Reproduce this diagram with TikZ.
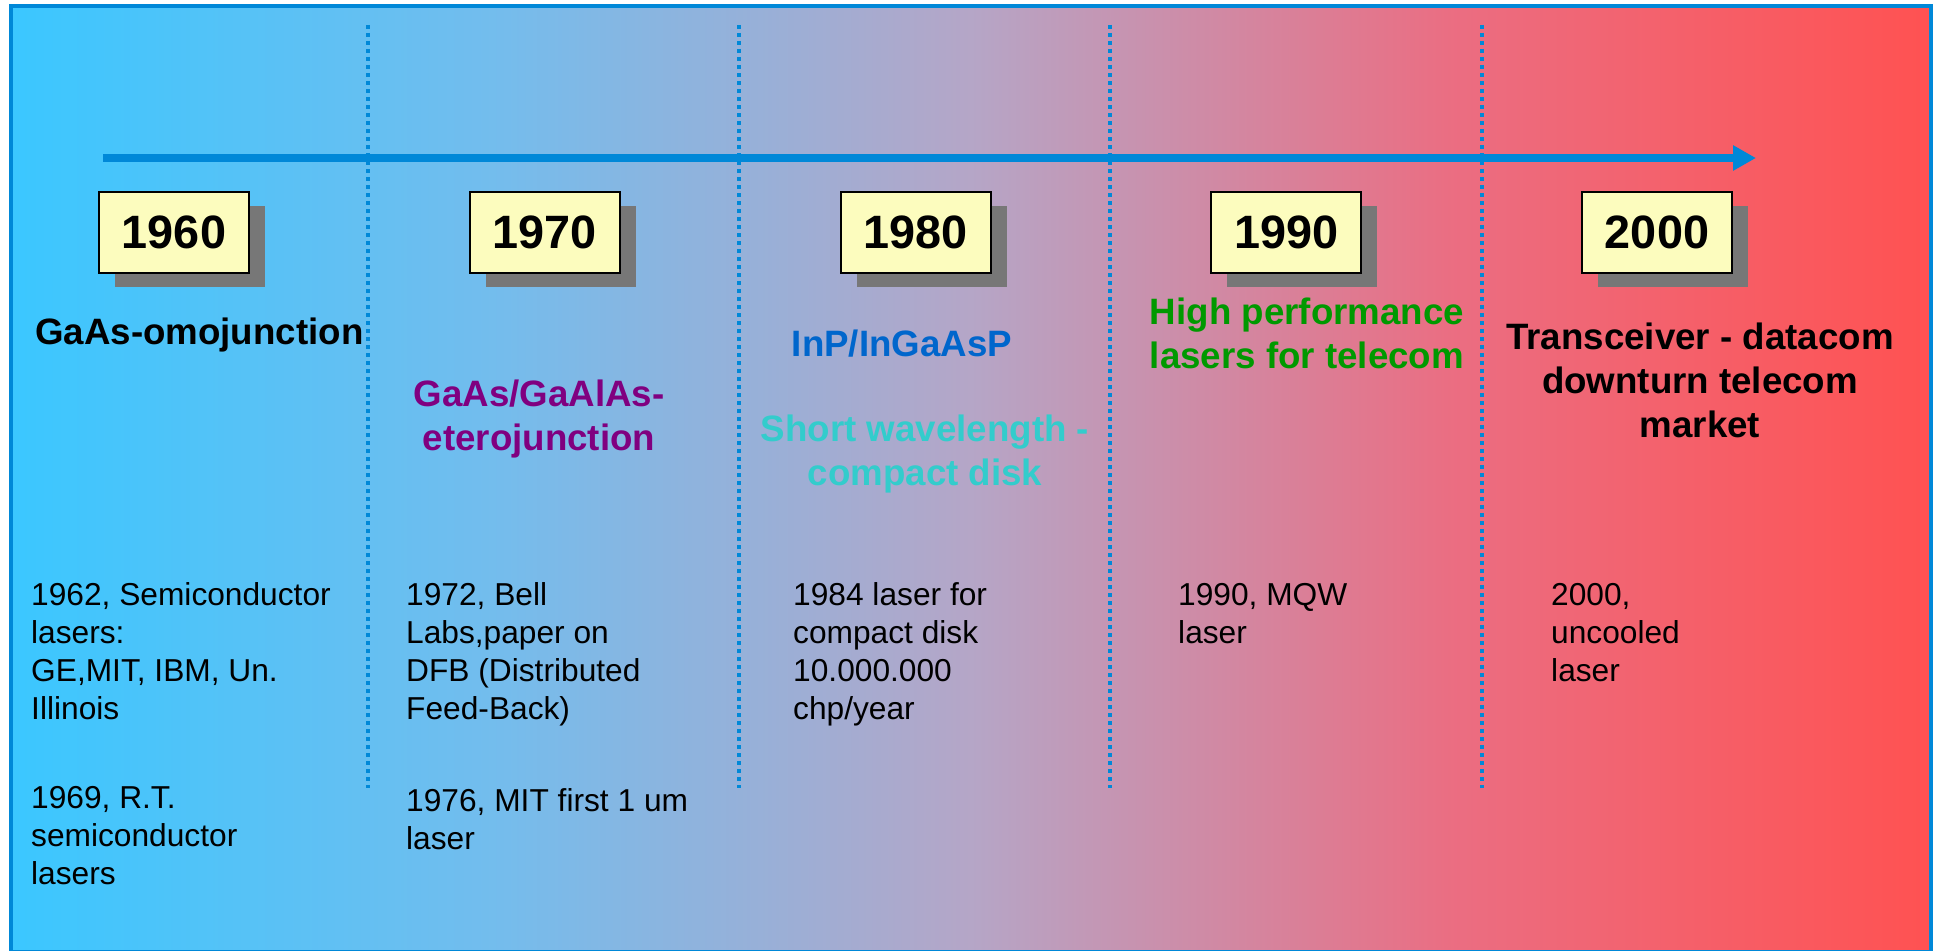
\documentclass[tikz,border=0pt]{standalone}
\usepackage{fontspec}
\setmainfont{Liberation Sans}
\usetikzlibrary{arrows.meta,shadows}
\definecolor{lineblue}{RGB}{0,136,216}
\definecolor{boxyellow}{RGB}{252,252,190}
\definecolor{shadowgray}{RGB}{119,119,119}
\definecolor{heterocol}{RGB}{128,0,128}
\definecolor{inpcol}{RGB}{0,102,204}
\definecolor{cdcol}{RGB}{51,204,204}
\definecolor{telecomcol}{RGB}{0,153,0}
\pgfdeclarehorizontalshading{timeramp}{100bp}{rgb(0bp)=(0.23,0.78,1);
  rgb(25bp)=(0.23,0.78,1); rgb(37.5bp)=(0.45,0.74,0.93); rgb(50bp)=(0.71,0.65,0.78);
  rgb(62.5bp)=(0.92,0.43,0.51); rgb(75bp)=(1,0.32,0.32); rgb(100bp)=(1,0.32,0.32)}
\tikzset{
  yearbox/.style={draw=black,line width=2pt,fill=boxyellow,minimum width=150,
    minimum height=81,inner sep=0,font=\fontsize{46.8}{56}\selectfont\bfseries,
    drop shadow={shadow xshift=16pt,shadow yshift=-14pt,fill=shadowgray,opacity=1}},
  head/.style={align=center,inner sep=0,anchor=base,
    font=\fontsize{36.7}{44}\selectfont\bfseries},
  body/.style={align=left,inner sep=0,anchor=base west,
    font=\fontsize{31.7}{38}\selectfont},
}
\begin{document}
\begin{tikzpicture}[x=1pt,y=-1pt]
  \pgfmathsetmacro\colw{370.75}
  \useasboundingbox (0,0) rectangle (1934,950);
  \clip (0,0) rectangle (1934,950);
  % background ramp and frame:
  \shade[shading=timeramp] (11,6) rectangle (1931,952);
  \draw[lineblue,line width=3.5pt] (11,6) rectangle (1931,952);
  % column separators:
  \foreach \x in {368,739,1110,1482}
    \draw[lineblue,line width=4pt,dash pattern=on 4pt off 4pt] (\x,25) -- (\x,788);
  % time axis:
  \coordinate (tstart) at (103,158);
  \coordinate (tend) at (1756,158);
  \draw[lineblue,line width=8pt,-{Triangle[length=23pt,width=24pt]}] (tstart) -- (tend);
  % year boxes:
  \foreach \i/\yr in {0/1960,1/1970,2/1980,3/1990,4/2000}
    \node[yearbox] (y\yr) at (174+\colw*\i,232.5) {\yr};
  % headings (placed at the baseline of their last line):
  \node[head,anchor=base west] (homo) at (35,344) {GaAs-omojunction};
  \node[head,text=heterocol] (hetero) at (539,450) {GaAs/GaAlAs-\\eterojunction};
  \node[head,text=inpcol] (inp) at (902,356) {InP/InGaAsP};
  \node[head,text=cdcol] (cd) at (925,485) {Short wavelength -\\compact disk};
  \node[head,text=telecomcol] (telecom) at (1307,368) {High performance\\lasers for telecom};
  \node[head] (market) at (1700,437) {Transceiver - datacom\\downturn telecom\\market};
  % events:
  \node[body] (b62) at (31,719) {1962, Semiconductor\\lasers:\\GE,MIT, IBM, Un.\\Illinois};
  \node[body] (b69) at (31,884) {1969, R.T.\\semiconductor\\lasers};
  \node[body] (b72) at (406,719) {1972, Bell\\Labs,paper on\\DFB (Distributed\\Feed-Back)};
  \node[body] (b76) at (406,849) {1976, MIT first 1 um\\laser};
  \node[body] (b84) at (793,719) {1984 laser for\\compact disk\\10.000.000\\chp/year};
  \node[body] (b90) at (1178,643) {1990, MQW\\laser};
  \node[body] (b00) at (1551,681) {2000,\\uncooled\\laser};
\end{tikzpicture}
\end{document}
